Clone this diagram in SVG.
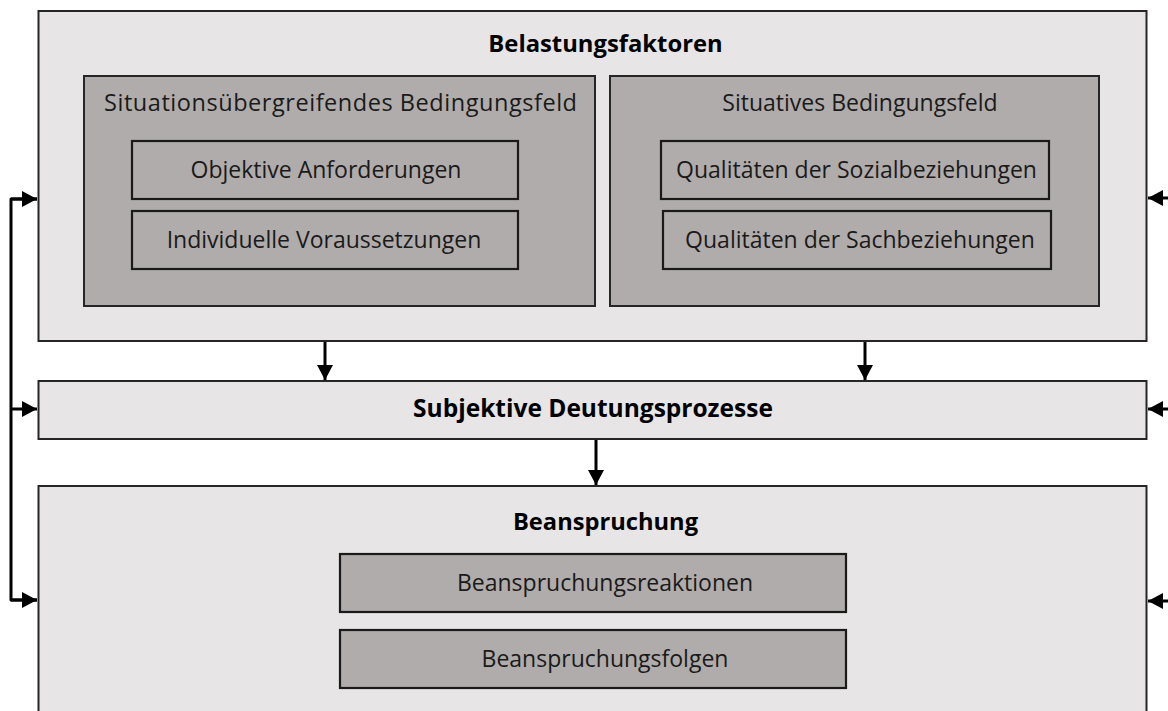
<svg xmlns="http://www.w3.org/2000/svg" width="1168" height="711" viewBox="0 0 1168 711">
<style>
.outer{fill:#e7e5e6;stroke:#262626;stroke-width:2}
.inner{fill:#b0acab;stroke:#262626;stroke-width:2}
.sub{fill:#b0acab;stroke:#1a1a1a;stroke-width:2.2}
.t{font-family:"Open Sans","Noto Sans",sans-serif;font-size:23px;fill:#1a1a1a;text-anchor:middle}
.b{font-weight:bold;fill:#000}
.c{fill:none;stroke:#000;stroke-width:3}
</style>
<defs>
<marker id="ah" markerUnits="userSpaceOnUse" markerWidth="16" markerHeight="16" refX="15" refY="8" orient="auto">
<path d="M0,0 L15,8 L0,16 Z" fill="#000"/>
</marker>
</defs>
<rect width="1168" height="711" fill="#fff"/>
<g id="belastungsfaktoren">
<rect class="outer" x="38.5" y="11" width="1108" height="330"/>
<text class="t b" x="605.5" y="52" style="font-size:23.8px">Belastungsfaktoren</text>
</g>
<g id="situationsuebergreifend">
<rect class="inner" x="84" y="76" width="511" height="230"/>
<text class="t" x="340.5" y="111" style="font-size:23.5px" textLength="473" lengthAdjust="spacing">Situationsübergreifendes Bedingungsfeld</text>
</g>
<g id="objektive">
<rect class="sub" x="132" y="141" width="386" height="58"/>
<text class="t" x="326" y="178">Objektive Anforderungen</text>
</g>
<g id="individuelle">
<rect class="sub" x="132" y="211" width="386" height="58"/>
<text class="t" x="324" y="248">Individuelle Voraussetzungen</text>
</g>
<g id="situativ">
<rect class="inner" x="610" y="76" width="489" height="230"/>
<text class="t" x="860" y="111">Situatives Bedingungsfeld</text>
</g>
<g id="sozial">
<rect class="sub" x="661" y="141" width="388" height="58"/>
<text class="t" x="856.5" y="178">Qualitäten der Sozialbeziehungen</text>
</g>
<g id="sach">
<rect class="sub" x="663" y="211" width="388" height="58"/>
<text class="t" x="860" y="248">Qualitäten der Sachbeziehungen</text>
</g>
<g id="deutung">
<rect class="outer" x="38.5" y="381" width="1108" height="58"/>
<text class="t b" x="593" y="417" style="font-size:24.5px">Subjektive Deutungsprozesse</text>
</g>
<g id="beanspruchung">
<path class="outer" d="M38.5,712 V486 H1146.5 V712"/>
<text class="t b" x="605.5" y="530" style="font-size:23.7px">Beanspruchung</text>
</g>
<g id="reaktionen">
<rect class="sub" x="340" y="554" width="506" height="58"/>
<text class="t" x="605" y="591">Beanspruchungsreaktionen</text>
</g>
<g id="folgen">
<rect class="sub" x="340" y="630" width="506" height="58"/>
<text class="t" x="605" y="667">Beanspruchungsfolgen</text>
</g>
<g id="connectors">
<line class="c" x1="325" y1="342" x2="325" y2="380" marker-end="url(#ah)"/>
<line class="c" x1="865" y1="342" x2="865" y2="380" marker-end="url(#ah)"/>
<line class="c" x1="596" y1="440" x2="596" y2="485" marker-end="url(#ah)"/>
<path class="c" d="M37,199 H11 V600 H37" stroke-linejoin="round"/>
<path class="c" d="M11,199 H37" marker-end="url(#ah)"/>
<path class="c" d="M11,409 H37" marker-end="url(#ah)"/>
<path class="c" d="M11,600 H37" marker-end="url(#ah)"/>
<path class="c" d="M1170,198 H1148" marker-end="url(#ah)"/>
<path class="c" d="M1170,409 H1148" marker-end="url(#ah)"/>
<path class="c" d="M1170,601 H1148" marker-end="url(#ah)"/>
</g>
</svg>
